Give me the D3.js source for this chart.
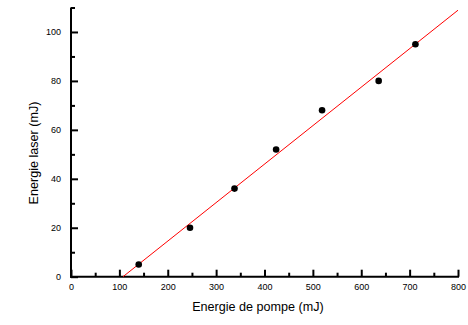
<!DOCTYPE html>
<html><head><meta charset="utf-8">
<script src="https://cdn.jsdelivr.net/npm/d3@7"></script>
<style>
body{margin:0;background:#fff;}
svg{display:block;font-family:"Liberation Sans",Arial,sans-serif;}
</style></head><body>
<svg id="c" width="468" height="325"></svg>
<script>
const pumpEnergy = [140, 246, 338, 424, 519, 636, 712];
const laserEnergy = [5, 20, 36, 52, 68, 80, 95];
const fitX = [107.5, 800];
const fitY = [0, 108.9];
const xMajorTicks = [0, 100, 200, 300, 400, 500, 600, 700, 800];
const xMinorTicks = [50, 150, 250, 350, 450, 550, 650, 750];
const yMajorTicks = [0, 20, 40, 60, 80, 100];
const yMinorTicks = [10, 30, 50, 70, 90, 110];
const xTitle = "Energie de pompe (mJ)";
const yTitle = "Energie laser (mJ)";

const svg = d3.select("#c");
const x = d3.scaleLinear().domain([0, 800]).range([71, 458]);
const y = d3.scaleLinear().domain([0, 110]).range([276.7, 7.5]);

// minor ticks
svg.append("g").attr("transform", `translate(0,${y(0)})`)
  .call(d3.axisBottom(x).tickValues(xMinorTicks).tickSizeInner(-4).tickSizeOuter(0).tickFormat(""))
  .call(g => g.select(".domain").remove())
  .call(g => g.selectAll("line").attr("stroke-width", 2));
svg.append("g").attr("transform", `translate(${x(0)},0)`)
  .call(d3.axisLeft(y).tickValues(yMinorTicks).tickSizeInner(-4).tickSizeOuter(0).tickFormat(""))
  .call(g => g.select(".domain").remove())
  .call(g => g.selectAll("line").attr("stroke-width", 2));

// major axes
const gx = svg.append("g").attr("transform", `translate(0,${y(0)})`)
  .call(d3.axisBottom(x).tickValues(xMajorTicks).tickSizeInner(-7).tickSizeOuter(0).tickPadding(6.5));
gx.select(".domain").attr("stroke-width", 2).attr("d", `M${x(0)-1},0H${x(800)+1}`);
gx.selectAll("line").attr("stroke-width", 2);
gx.selectAll("text").attr("font-size", 9).attr("font-family", "Liberation Sans, Arial, sans-serif").attr("fill", "#000");

const gy = svg.append("g").attr("transform", `translate(${x(0)},0)`)
  .call(d3.axisLeft(y).tickValues(yMajorTicks).tickSizeInner(-7).tickSizeOuter(0).tickPadding(10));
gy.select(".domain").attr("stroke-width", 2).attr("d", `M0,${y(110)}V${y(0)+1}`);
gy.selectAll("line").attr("stroke-width", 2);
gy.selectAll("text").attr("font-size", 9).attr("font-family", "Liberation Sans, Arial, sans-serif").attr("fill", "#000");

// fit line
const line = d3.line().x(d => x(d[0])).y(d => y(d[1]));
svg.append("path").datum(d3.zip(fitX, fitY))
  .attr("d", line).attr("fill", "none").attr("stroke", "#ff0000").attr("stroke-width", 1);

// points
svg.append("g").selectAll("circle").data(d3.zip(pumpEnergy, laserEnergy)).join("circle")
  .attr("cx", d => x(d[0])).attr("cy", d => y(d[1])).attr("r", 3.3).attr("fill", "#000");

// titles
svg.append("text").attr("x", 258).attr("y", 311).attr("text-anchor", "middle")
  .attr("font-size", 12.6).attr("fill", "#000").text(xTitle);
svg.append("text").attr("transform", `translate(38,153) rotate(-90)`).attr("text-anchor", "middle")
  .attr("font-size", 12.6).attr("fill", "#000").text(yTitle);
</script>
</body></html>
